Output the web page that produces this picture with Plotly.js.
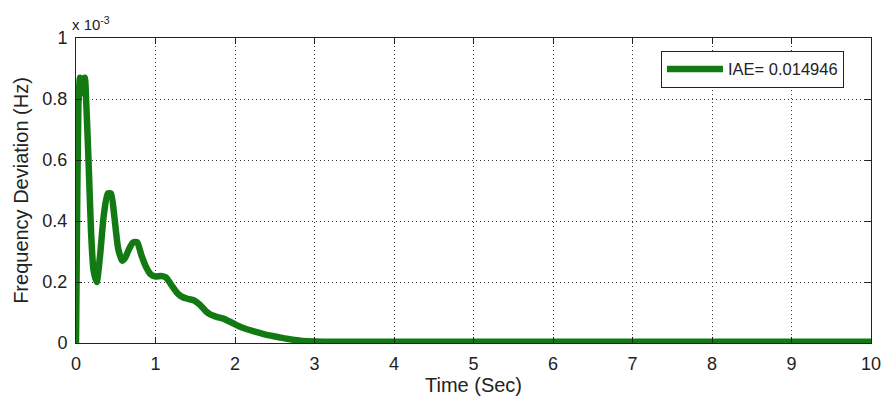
<!DOCTYPE html>
<html>
<head>
<meta charset="utf-8">
<script src="https://cdn.plot.ly/plotly-3.0.1.min.js"></script>
<style>html,body{margin:0;padding:0;background:#fff;}#chart{width:882px;height:401px;}</style>
</head>
<body>
<div id="chart"></div>
<script>
const timeSec = [0, 0.01, 0.03, 0.05, 0.07, 0.09, 0.11, 0.13, 0.16, 0.19, 0.22, 0.26, 0.30, 0.35, 0.40, 0.44, 0.48, 0.53, 0.58, 0.62, 0.67, 0.72, 0.77, 0.82, 0.88, 0.94, 1.0, 1.07, 1.13, 1.20, 1.27, 1.33, 1.40, 1.48, 1.56, 1.63, 1.70, 1.78, 1.86, 1.95, 2.05, 2.15, 2.25, 2.35, 2.45, 2.55, 2.65, 2.75, 2.85, 3.0, 3.3, 3.6, 4.0, 4.5, 5.0, 5.5, 6.0, 6.5, 7.0, 7.5, 8.0, 8.5, 9.0, 9.5, 10.0];
const freqDev = [0, 0.30, 0.78, 0.87, 0.82, 0.86, 0.87, 0.78, 0.58, 0.36, 0.24, 0.20, 0.28, 0.42, 0.49, 0.49, 0.42, 0.31, 0.27, 0.28, 0.31, 0.33, 0.33, 0.29, 0.25, 0.225, 0.218, 0.22, 0.215, 0.19, 0.165, 0.152, 0.145, 0.14, 0.125, 0.105, 0.092, 0.085, 0.079, 0.068, 0.055, 0.045, 0.037, 0.030, 0.024, 0.019, 0.014, 0.010, 0.007, 0.005, 0.004, 0.004, 0.004, 0.004, 0.004, 0.004, 0.004, 0.004, 0.004, 0.004, 0.004, 0.004, 0.004, 0.004, 0.004];
const seriesName = 'IAE= 0.014946';
const xTicks = [0,1,2,3,4,5,6,7,8,9,10];
const yTicks = [0,0.2,0.4,0.6,0.8,1];
const yTickText = ['0','0.2','0.4','0.6','0.8','1'];

const FONT = 'Liberation Sans, Arial, sans-serif';
const trace = {
  x: timeSec, y: freqDev, type: 'scatter', mode: 'lines', name: seriesName,
  line: {color: '#137a13', width: 6.5, shape: 'spline', smoothing: 0.6}
};
const axCommon = {
  showline: true, linecolor: '#222', linewidth: 1, mirror: 'ticks',
  ticks: 'inside', ticklen: 6, tickcolor: '#222', ticklabelstandoff: 4,
  showgrid: true, gridcolor: '#333', griddash: '1px,3px', gridwidth: 1,
  zeroline: false, tickfont: {family: FONT, size: 18, color: '#222'}
};
const layout = {
  width: 882, height: 401,
  margin: {l: 76, r: 11, t: 38, b: 58},
  paper_bgcolor: '#fff', plot_bgcolor: '#fff',
  showlegend: true,
  legend: {x: 0.966, y: 0.958, xanchor: 'right', yanchor: 'top', bgcolor: '#fff', bordercolor: '#222', borderwidth: 1,
    itemwidth: 56, font: {family: FONT, size: 16.5, color: '#222'}},
  xaxis: Object.assign({}, axCommon, {range: [0, 10], tickvals: xTicks, ticktext: xTicks.map(String),
    title: {text: 'Time (Sec)', font: {family: FONT, size: 20, color: '#222'}, standoff: 3}}),
  yaxis: Object.assign({}, axCommon, {range: [0, 1], tickvals: yTicks, ticktext: yTickText,
    title: {text: 'Frequency Deviation (Hz)', font: {family: FONT, size: 20, color: '#222'}, standoff: 8}}),
  annotations: [{xref: 'paper', yref: 'paper', x: 0, y: 1, xanchor: 'left', yanchor: 'bottom', yshift: 3, xshift: -6, showarrow: false,
    text: 'x 10<sup>-3</sup>', font: {family: FONT, size: 15, color: '#222'}}]
};
Plotly.newPlot('chart', [trace], layout, {displayModeBar: false, staticPlot: true});
</script>
</body>
</html>
